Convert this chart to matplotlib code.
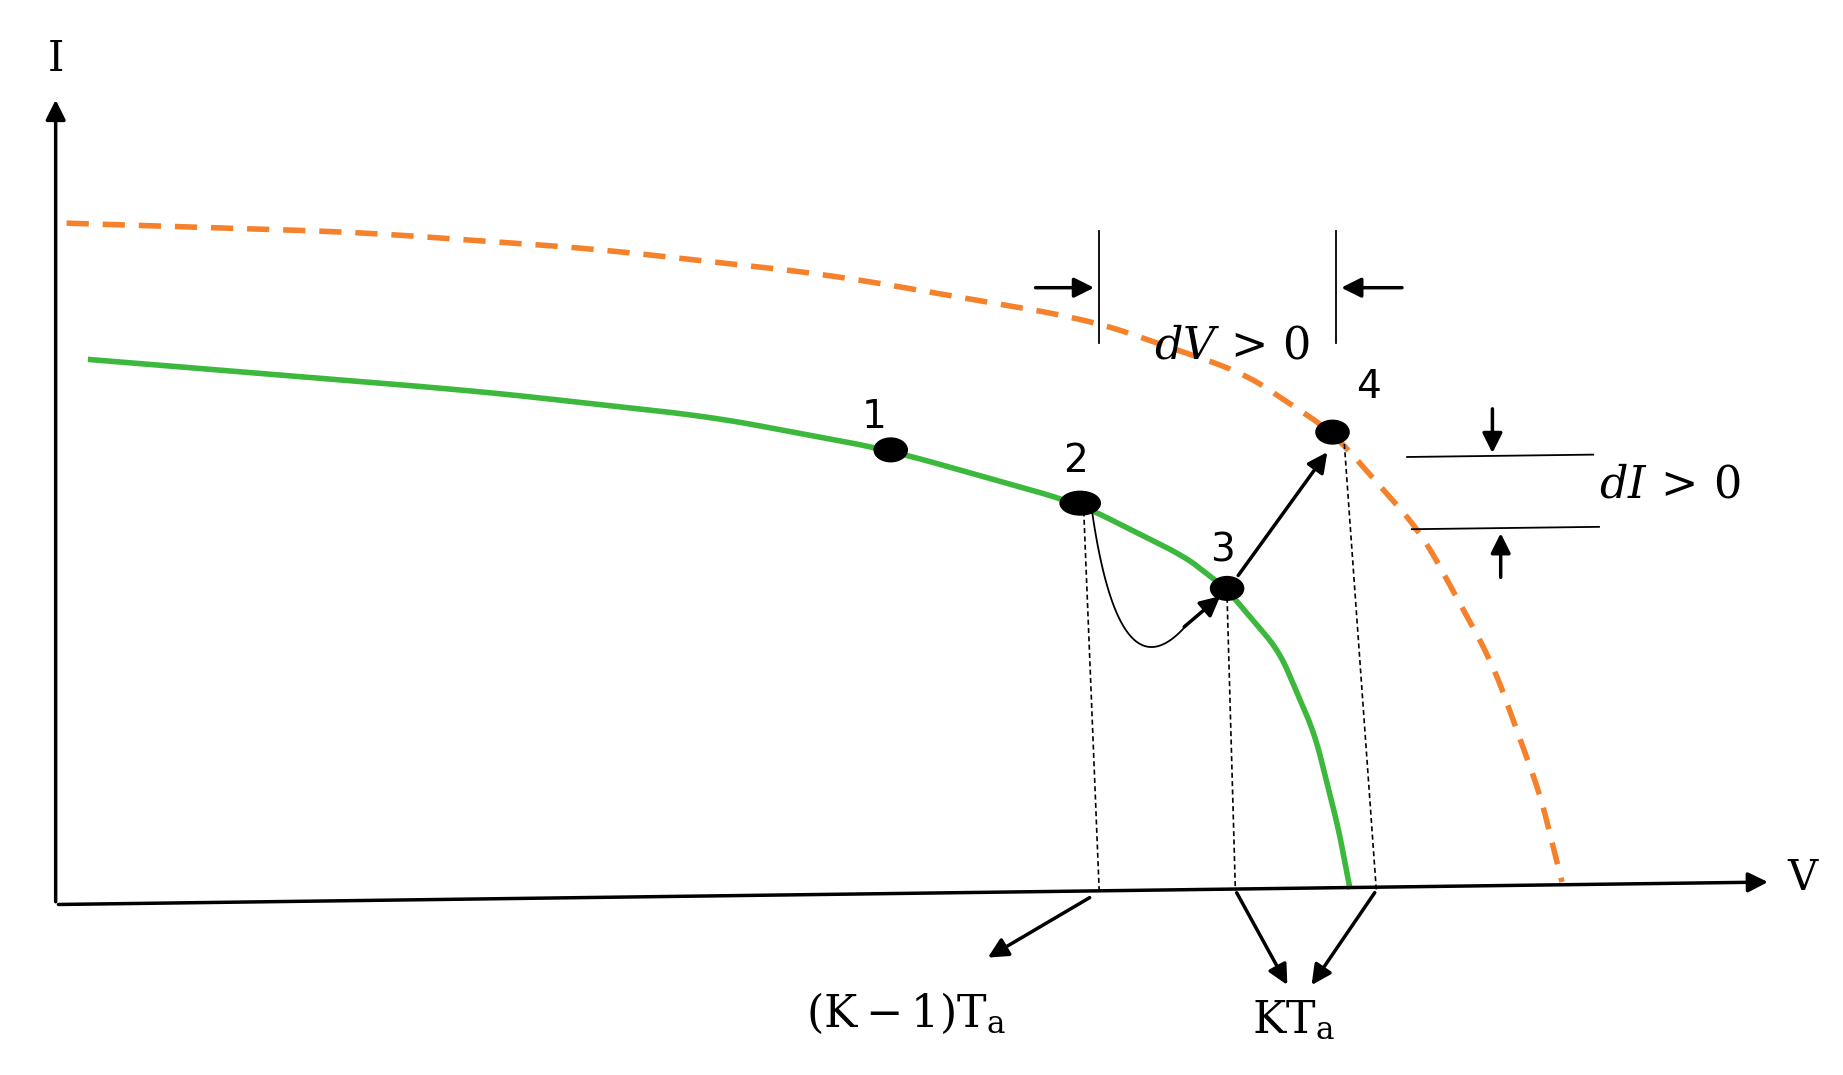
import numpy as np
import matplotlib.pyplot as plt
from matplotlib.patches import Ellipse

# diagram coordinates (image-like units, y grows downward)
orange_x = [40, 300, 500, 700, 920, 1050, 1125, 1200, 1260, 1300, 1320]
orange_y = [188, 196, 210, 232, 270, 315, 365, 450, 560, 670, 750]
green_x = [55, 400, 600, 750, 910, 1000, 1035, 1080, 1110, 1130, 1140]
green_y = [302, 330, 352, 380, 425, 470, 497, 550, 620, 700, 752]
pts_x = [752, 912, 1036, 1125]
pts_y = [380, 425, 497, 365]
pt_labels = ["1", "2", "3", "4"]
lab_dx = [-14, -4, -4, 30]
lab_dy = [-28, -36, -32, -38]


def smooth(xs, ys, n=300):
    t = np.linspace(0, 1, len(xs))
    tt = np.linspace(0, 1, n)
    # Catmull-Rom-ish via cubic polyfit per segment (simple: np.interp on dense piecewise)
    from numpy.polynomial import polynomial as P
    cx = np.interp(tt, t, xs)
    cy = np.interp(tt, t, ys)
    k = 15
    ker = np.ones(k) / k
    cxs = np.convolve(np.pad(cx, k // 2, mode="edge"), ker, "valid")
    cys = np.convolve(np.pad(cy, k // 2, mode="edge"), ker, "valid")
    return cxs, cys


fig = plt.figure(figsize=(18.43, 10.75), dpi=100)
ax = fig.add_axes([0, 0, 1, 1])
ax.set_xlim(0, 1556)
ax.set_ylim(908, 0)
ax.axis("off")

arr = dict(arrowstyle="-|>,head_length=1.2,head_width=0.6", color="black", lw=2.5)

# axes
ax.annotate("", xy=(47, 82), xytext=(47, 764), arrowprops=arr)
ax.annotate("", xy=(1495, 745), xytext=(47, 764), arrowprops=arr)
ax.text(47, 50, "I", fontsize=30, family="DejaVu Serif", ha="center", va="center")
ax.text(1522, 742, "V", fontsize=30, family="DejaVu Serif", ha="center", va="center")

ox, oy = smooth(orange_x, orange_y)
ax.plot(ox, oy, color="#f5822a", lw=4, ls=(0, (4, 2.5)))
gx, gy = smooth(green_x, green_y)
ax.plot(gx, gy, color="#3cb83c", lw=4)

for x, y, l, dx, dy in zip(pts_x, pts_y, pt_labels, lab_dx, lab_dy):
    w = 34 if l == "2" else 28
    ax.add_patch(Ellipse((x, y), w, 20, color="black", zorder=5))
    ax.text(x + dx, y + dy, l, fontsize=28, ha="center", va="center")

# thin transition curve 2 -> 3
t = np.linspace(0, 1, 100)
bx = (1 - t) ** 2 * 922 + 2 * t * (1 - t) * 945 + t ** 2 * 1000
by = (1 - t) ** 2 * 432 + 2 * t * (1 - t) * 590 + t ** 2 * 530
ax.plot(bx, by, color="black", lw=1.3)
ax.annotate("", xy=(1032, 502), xytext=(998, 531), arrowprops=arr)
ax.annotate("", xy=(1122, 380), xytext=(1044, 488), arrowprops=arr)

# dashed projections
for (x0, y0), (x1, y1) in [((915, 432), (928, 752)), ((1036, 505), (1043, 752)), ((1135, 375), (1162, 752))]:
    ax.plot([x0, x1], [y0, y1], color="black", lw=1.2, ls=(0, (3, 2)))

# dV
ax.plot([928, 928], [195, 290], color="black", lw=1.3)
ax.plot([1128, 1128], [195, 290], color="black", lw=1.3)
ax.annotate("", xy=(926, 243), xytext=(872, 243), arrowprops=arr)
ax.annotate("", xy=(1130, 243), xytext=(1186, 243), arrowprops=arr)
ax.text(1040, 292, r"$dV\,>\,0$", fontsize=32, ha="center", va="center",
        math_fontfamily="dejavuserif")

# dI
ax.plot([1188, 1345], [386, 384], color="black", lw=1.3)
ax.plot([1192, 1350], [447, 445], color="black", lw=1.3)
ax.annotate("", xy=(1260, 385), xytext=(1260, 343), arrowprops=arr)
ax.annotate("", xy=(1267, 448), xytext=(1267, 490), arrowprops=arr)
ax.text(1410, 410, r"$dI\,>\,0$", fontsize=32, ha="center", va="center",
        math_fontfamily="dejavuserif")

# bottom labels
ax.annotate("", xy=(832, 810), xytext=(922, 757), arrowprops=arr)
ax.annotate("", xy=(1088, 834), xytext=(1043, 752), arrowprops=arr)
ax.annotate("", xy=(1106, 834), xytext=(1162, 752), arrowprops=arr)
ax.text(765, 856, r"$\mathrm{(K-1)T_a}$", fontsize=32, ha="center", va="center",
        math_fontfamily="dejavuserif")
ax.text(1092, 862, r"$\mathrm{KT_a}$", fontsize=32, ha="center", va="center",
        math_fontfamily="dejavuserif")

fig.savefig("out.png", dpi=100, facecolor="white")
